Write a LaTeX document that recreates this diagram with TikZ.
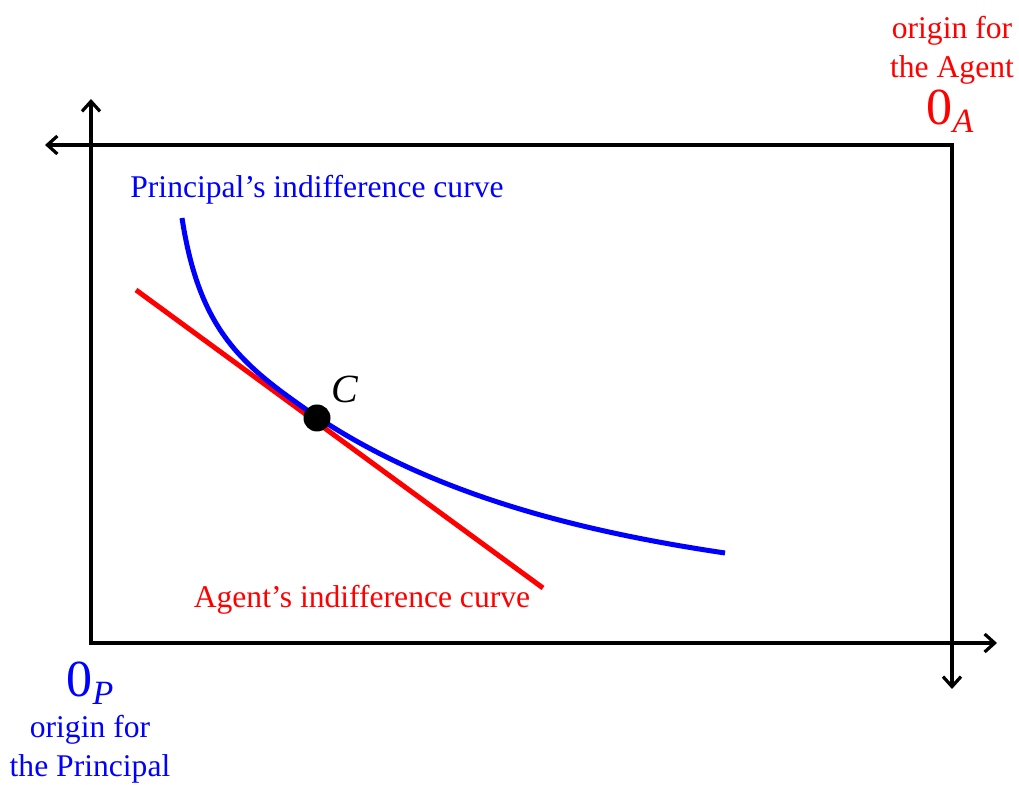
\documentclass[tikz,border=0pt]{standalone}
\usepackage{fontspec}
\setmainfont{Liberation Serif}
\usetikzlibrary{arrows.meta}
\definecolor{myblue}{RGB}{0,0,255}
\definecolor{myred}{RGB}{255,0,0}
\begin{document}
\begin{tikzpicture}[x=0.5pt,y=-0.5pt,
  barb/.tip={Straight Barb[length=5pt,width=9pt]},
  axis/.style={line width=1.6pt, line join=miter, {barb}-{barb}},
  lbl/.style={font=\fontsize{15.8}{19.5}\selectfont, inner sep=0pt, align=center},
  big/.style={inner sep=0pt},
  curve/.style={line width=2.5pt, line cap=butt}]
\useasboundingbox (0,0) rectangle (1019,785);
% axes
\coordinate (OP) at (91,643);
\coordinate (PY) at (91,99);
\coordinate (PX) at (997,643);
\coordinate (OA) at (952,145);
\coordinate (AX) at (45,145);
\coordinate (AY) at (952,689);
\draw[axis] (PY) -- (OP) -- (PX);
\draw[axis] (AX) -- (OA) -- (AY);
% agent line
\coordinate (R1) at (136,290);
\coordinate (R2) at (543,588);
\draw[curve, myred] (R1) -- (R2);
% principal curve
\coordinate (B1) at (182,218);
\coordinate (Cpt) at (317,417);
\coordinate (B2) at (725,553);
\draw[curve, myblue] (B1) .. controls (200,335) and (245,367) .. (Cpt)
  .. controls (430,492) and (570,530) .. (B2);
% point C
\node (C) [circle, fill=black, inner sep=0pt, minimum size=13.5pt] at (317,418) {};
\node (Clbl) [big, font=\fontsize{20}{20}\selectfont] at (345,389) {\textit{C}};
% labels
\node (plbl) [lbl, text=myblue] at (317,190) {Principal’s indifference curve};
\node (albl) [lbl, text=myred] at (362,600) {Agent’s indifference curve};
\node (OAlbl) [big, text=myred] at (950,111) {{\fontsize{26}{26}\selectfont 0}\raisebox{-4pt}{\fontsize{17}{17}\selectfont\textit{A}}};
\node (OAtxt) [lbl, text=myred] at (952,50) {origin for\\the Agent};
\node (OPlbl) [big, text=myblue] at (90,683) {{\fontsize{26}{26}\selectfont 0}\raisebox{-4pt}{\fontsize{17}{17}\selectfont\textit{P}}};
\node (OPtxt) [lbl, text=myblue] at (90,749) {origin for\\the Principal};
\end{tikzpicture}
\end{document}
